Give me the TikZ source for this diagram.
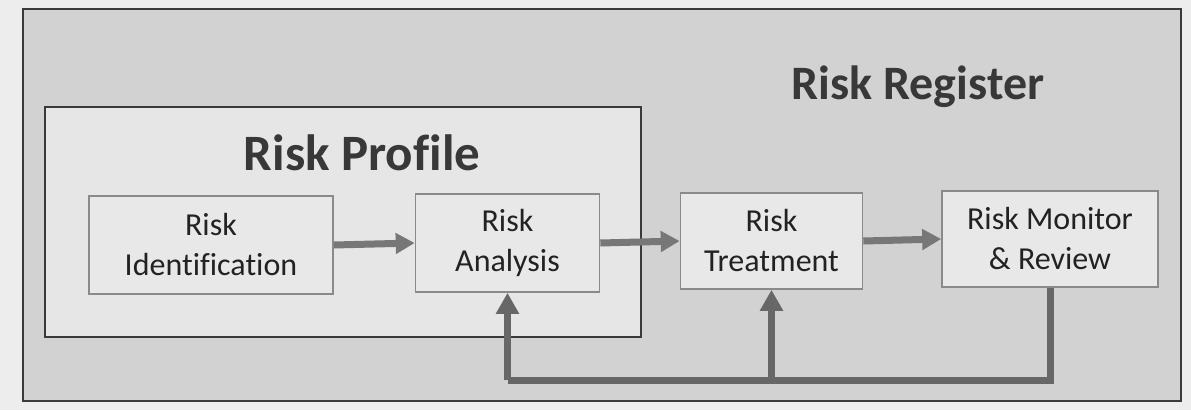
\documentclass[tikz,border=0pt]{standalone}
\usepackage{fontspec}
\setmainfont{Carlito}[Ligatures=CommonOff]
\usetikzlibrary{arrows.meta}
\definecolor{pagebg}{HTML}{EDEDED}
\definecolor{regbg}{HTML}{D2D2D2}
\definecolor{profbg}{HTML}{E6E6E6}
\definecolor{boxbg}{HTML}{E8E8E8}
\definecolor{boxline}{HTML}{8A8A8A}
\definecolor{frameline}{HTML}{3A3A3A}
\definecolor{arrowgrey}{HTML}{777777}
\definecolor{fbgrey}{HTML}{676767}
\definecolor{txt}{HTML}{222222}
\tikzset{
  stepbox/.style={draw=boxline, line width=1.6pt, fill=boxbg, align=center,
    text=txt, font=\fontsize{32}{40}\selectfont, inner sep=0pt},
  flow/.style={draw=arrowgrey, line width=7pt,
    -{Triangle[length=19pt,width=20pt]}},
  fb/.style={draw=fbgrey, line width=7pt},
  fbarrow/.style={draw=fbgrey, line width=7pt,
    -{Triangle[length=21pt,width=22pt]}},
  title/.style={text=txt!90!white, font=\bfseries, inner sep=0pt}
}
\begin{document}
\begin{tikzpicture}[x=1pt,y=-1pt]
\useasboundingbox (0,0) rectangle (1191,410);
\fill[pagebg] (0,0) rectangle (1191,410);
% Risk Register frame
\node[draw=frameline, line width=2pt, fill=regbg, minimum width=1158pt,
  minimum height=392pt, inner sep=0pt] (reg) at (602,205) {};
% Risk Profile frame
\node[draw=frameline, line width=2.5pt, fill=profbg, minimum width=596pt,
  minimum height=230pt, inner sep=0pt] (prof) at (343,222) {};
\node[title, font=\fontsize{51}{56}\selectfont\bfseries] (proftitle) at (362,153) {Risk Profile};
\node[title, font=\fontsize{48}{54}\selectfont\bfseries] (regtitle) at (918,87) {Risk Register};
% steps
\node[stepbox, minimum width=244pt, minimum height=98pt] (ide) at (211,245) {Risk\\Identification};
\node[stepbox, minimum width=184pt, minimum height=98pt] (ana) at (507.5,243) {Risk\\Analysis};
\node[stepbox, minimum width=182pt, minimum height=96pt] (tre) at (771.5,241) {Risk\\Treatment};
\node[stepbox, minimum width=216pt, minimum height=96pt] (mon) at (1050,239) {Risk Monitor\\\& Review};
% flow arrows
\draw[flow] (ide.east) -- (ana.west);
\draw[flow] (ana.east) -- (tre.west);
\draw[flow] (tre.east) -- (mon.west);
% feedback
\coordinate (fbL) at (ana.south |- 0,380);
\coordinate (fbT) at (tre.south |- 0,380);
\draw[fb, line join=miter] (mon.south) |- (fbL);
\draw[fbarrow] (fbL) -- (ana.south);
\draw[fbarrow] (fbT) -- (tre.south);
\end{tikzpicture}
\end{document}
